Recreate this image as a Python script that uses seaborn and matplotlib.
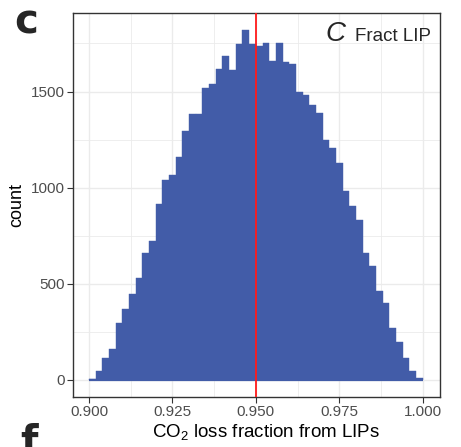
import numpy as np
import pandas as pd
import seaborn as sns
import matplotlib.pyplot as plt

# histogram counts, 50 bins of width 0.002 from 0.900 to 1.000
bin_start = 0.900
bin_width = 0.002
counts = [5, 47, 114, 163, 297, 369, 447, 531, 661, 723,
          916, 1040, 1066, 1160, 1295, 1385, 1385, 1519, 1540, 1618,
          1686, 1613, 1748, 1821, 1748, 1738, 1753, 1660, 1753, 1655,
          1644, 1495, 1483, 1431, 1389, 1249, 1207, 1129, 983, 905,
          832, 661, 593, 463, 401, 271, 198, 114, 47, 10]
median_line = 0.950
x_ticks = [0.900, 0.925, 0.950, 0.975, 1.000]
y_ticks = [0, 500, 1000, 1500]

edges = bin_start + bin_width * np.arange(len(counts) + 1)
df = pd.DataFrame({"frac": (edges[:-1] + edges[1:]) / 2, "n": counts})

sns.set_theme(style="white")
plt.rcParams["font.family"] = ["Liberation Sans", "DejaVu Sans"]
plt.rcParams["mathtext.fontset"] = "custom"
plt.rcParams["mathtext.rm"] = "Liberation Sans"
plt.rcParams["mathtext.it"] = "Liberation Sans:italic"

bar_col = "#425ca8"
fig = plt.figure(figsize=(4.61, 4.47), dpi=100)
ax = fig.add_axes([73 / 461, 1 - 396.7 / 447, 367 / 461, 384 / 447])

ax.hlines(0, edges[0], edges[-1], color=bar_col, lw=1.6, zorder=1)
sns.histplot(data=df, x="frac", weights="n", bins=list(edges), color=bar_col,
             alpha=1, edgecolor=bar_col, linewidth=0.3, ax=ax, zorder=2)
ax.axvline(median_line, color="#ff1a1a", lw=1.3, zorder=3)

ax.set_xlim(0.8952, 1.0052)
ax.set_ylim(-87, 1910)
ax.set_xticks(x_ticks)
ax.set_xticklabels([f"{t:.3f}" for t in x_ticks])
ax.set_yticks(y_ticks)
ax.set_xticks([0.9125, 0.9375, 0.9625, 0.9875], minor=True)
ax.set_yticks([250, 750, 1250, 1750], minor=True)
ax.grid(which="major", color="#ebebeb", lw=1.0, zorder=0)
ax.grid(which="minor", color="#ebebeb", lw=0.6, zorder=0)
ax.set_axisbelow(True)
ax.tick_params(which="major", direction="out", length=4, width=0.8,
               color="#333333", labelcolor="#4d4d4d", labelsize=11, pad=2,
               bottom=True, left=True)
ax.tick_params(which="minor", length=0)
for s in ax.spines.values():
    s.set_color("#333333")
    s.set_linewidth(1.0)

ax.set_xlabel("CO$_2$ loss fraction from LIPs", fontsize=13.5, color="black",
              labelpad=2, x=0.525)
ax.set_ylabel("count", fontsize=13, color="black", labelpad=4)

ax.text(0.9747, 0.927, "Fract LIP", transform=ax.transAxes, ha="right",
        va="baseline", fontsize=13.5)
ax.text(0.6866, 0.927, "C", transform=ax.transAxes, ha="left",
        va="baseline", fontsize=20, style="italic")

fig.text(14 / 461, 1 - 33 / 447, "c", fontsize=29, fontweight="black",
         family="DejaVu Sans", ha="left", va="baseline")
fig.text(20 / 461, 1 - 454 / 447, "f", fontsize=29, fontweight="black",
         family="DejaVu Sans", ha="left", va="baseline")

fig.savefig("out.png", dpi=100)
